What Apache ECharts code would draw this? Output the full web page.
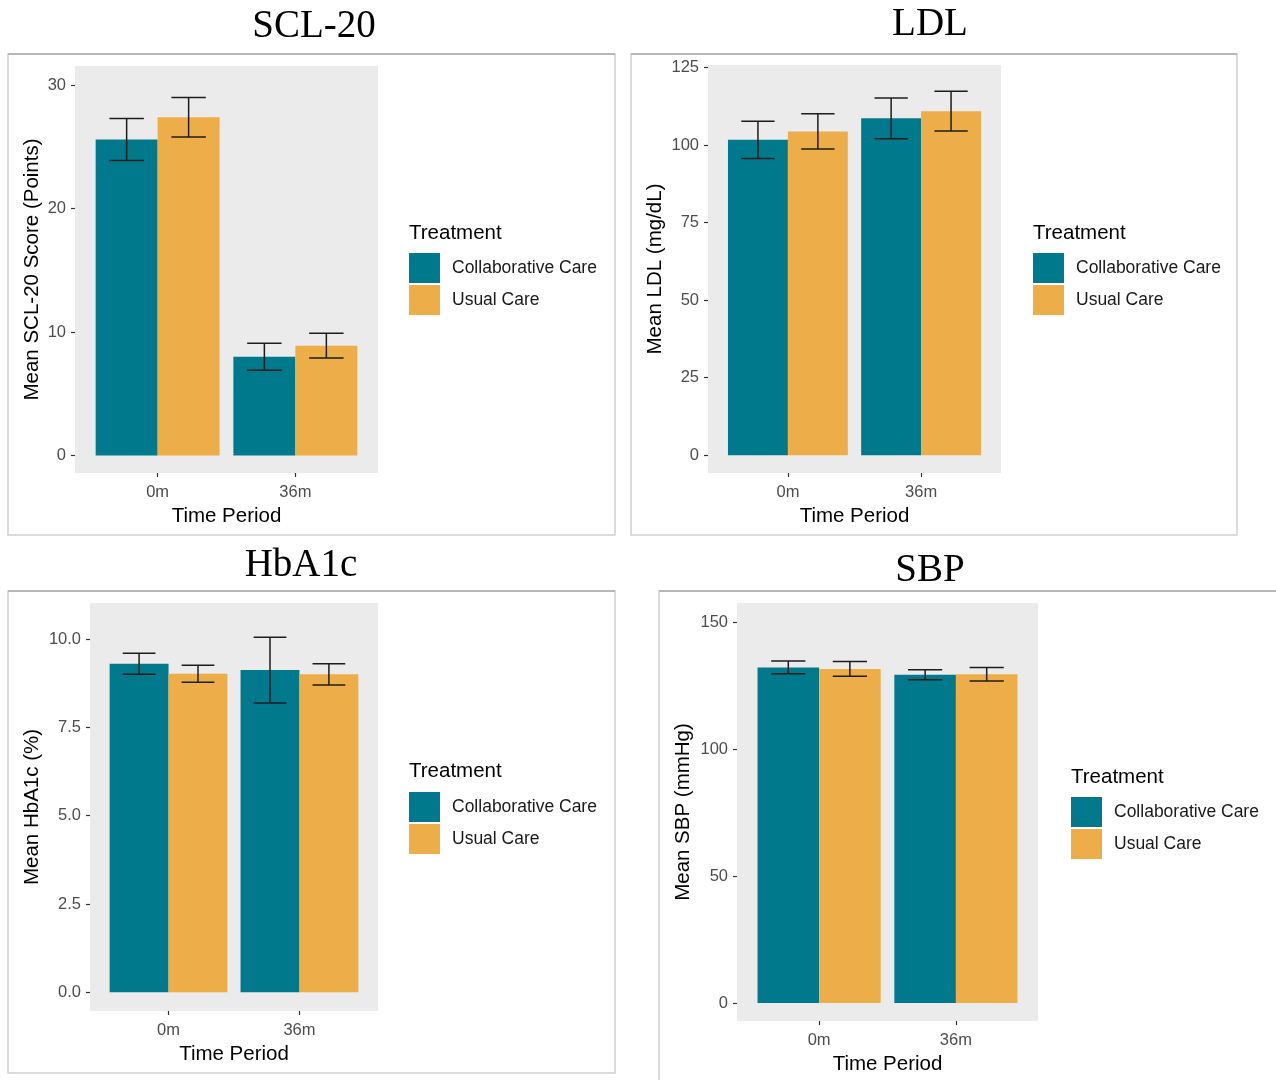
<!DOCTYPE html>
<html>
<head>
<meta charset="utf-8">
<script src="https://cdn.jsdelivr.net/npm/echarts@6/dist/echarts.min.js"></script>
<style>
  html, body { margin: 0; padding: 0; background: #ffffff; }
  #chart { width: 1276px; height: 1080px; }
</style>
</head>
<body>
<div id="chart"></div>
<script>
// Time points and treatment groups
const periods = ['0m', '36m'];
const groups = ['Collaborative Care', 'Usual Care'];

// SCL-20 depression score: means and error half-widths
const scl20CC = [25.6, 8.0];
const scl20CCErr = [1.7, 1.1];
const scl20UC = [27.4, 8.9];
const scl20UCErr = [1.6, 1.0];
const scl20Ticks = [0, 10, 20, 30];

// LDL cholesterol (mg/dL)
const ldlCC = [101.7, 108.6];
const ldlCCErr = [6.0, 6.6];
const ldlUC = [104.4, 110.9];
const ldlUCErr = [5.7, 6.4];
const ldlTicks = [0, 25, 50, 75, 100, 125];

// HbA1c (%)
const hba1cCC = [9.3, 9.12];
const hba1cCCErr = [0.3, 0.93];
const hba1cUC = [9.02, 9.0];
const hba1cUCErr = [0.24, 0.3];
const hba1cTicks = [0, 2.5, 5.0, 7.5, 10.0];

// Systolic blood pressure (mmHg)
const sbpCC = [132.3, 129.4];
const sbpCCErr = [2.5, 2.0];
const sbpUC = [131.7, 129.6];
const sbpUCErr = [2.9, 2.7];
const sbpTicks = [0, 50, 100, 150];

const COLORS = ['#00798C', '#EDAE49'];
const SANS = '"Liberation Sans", Arial, sans-serif';
const SERIF = '"Liberation Serif", "Times New Roman", serif';

// Layout of each panel
const panels = [
  { title: 'SCL-20', tx: 314, ty: 27, box: [8, 54, 607, 481],
    grid: { left: 75, top: 66, width: 303, height: 407 },
    yMin: -1.42, yMax: 31.56, ticks: scl20Ticks, dec: 0,
    yName: 'Mean SCL-20 Score (Points)', yGap: 32,
    legX: 409, legY: 253, legTitleY: 233,
    cc: scl20CC, ccErr: scl20CCErr, uc: scl20UC, ucErr: scl20UCErr },
  { title: 'LDL', tx: 930, ty: 25, box: [631, 54, 606, 481],
    grid: { left: 708, top: 65, width: 293, height: 408 },
    yMin: -5.7, yMax: 125.8, ticks: ldlTicks, dec: 0,
    yName: 'Mean LDL (mg/dL)', yGap: 42,
    legX: 1033, legY: 253, legTitleY: 233,
    cc: ldlCC, ccErr: ldlCCErr, uc: ldlUC, ucErr: ldlUCErr },
  { title: 'HbA1c', tx: 301, ty: 566, box: [8, 591, 607, 482],
    grid: { left: 90, top: 603, width: 288, height: 408 },
    yMin: -0.53, yMax: 11.02, ticks: hba1cTicks, dec: 1,
    yName: 'Mean HbA1c (%)', yGap: 47,
    legX: 409, legY: 792, legTitleY: 771,
    cc: hba1cCC, ccErr: hba1cCCErr, uc: hba1cUC, ucErr: hba1cUCErr },
  { title: 'SBP', tx: 930, ty: 571, box: [659, 591, 640, 520],
    grid: { left: 737, top: 603, width: 301, height: 418 },
    yMin: -7.1, yMax: 157.7, ticks: sbpTicks, dec: 0,
    yName: 'Mean SBP (mmHg)', yGap: 43,
    legX: 1071, legY: 797, legTitleY: 777,
    cc: sbpCC, ccErr: sbpCCErr, uc: sbpUC, ucErr: sbpUCErr }
];

const BAR_W = 0.45;   // dodge width per group, in category units
const CAP_W = 0.25;   // error bar cap width

function barRenderer(offset, color) {
  return function (params, api) {
    const x = api.value(0) + offset;
    const v = api.value(1);
    const p0 = api.coord([x - BAR_W / 2, v]);
    const p1 = api.coord([x + BAR_W / 2, 0]);
    return {
      type: 'rect',
      shape: { x: p0[0], y: p0[1], width: p1[0] - p0[0], height: p1[1] - p0[1] },
      style: { fill: color }
    };
  };
}

function errRenderer(offset) {
  return function (params, api) {
    const x = api.value(0) + offset;
    const lo = api.value(1);
    const hi = api.value(2);
    const top = api.coord([x, hi]);
    const bot = api.coord([x, lo]);
    const tl = api.coord([x - CAP_W / 2, hi]);
    const tr = api.coord([x + CAP_W / 2, hi]);
    const bl = api.coord([x - CAP_W / 2, lo]);
    const br = api.coord([x + CAP_W / 2, lo]);
    const st = { stroke: '#1c1c1c', lineWidth: 1.5 };
    return {
      type: 'group',
      children: [
        { type: 'line', shape: { x1: top[0], y1: top[1], x2: bot[0], y2: bot[1] }, style: st },
        { type: 'line', shape: { x1: tl[0], y1: tl[1], x2: tr[0], y2: tr[1] }, style: st },
        { type: 'line', shape: { x1: bl[0], y1: bl[1], x2: br[0], y2: br[1] }, style: st }
      ]
    };
  };
}

const option = {
  backgroundColor: '#ffffff',
  animation: false,
  grid: [], xAxis: [], yAxis: [], series: [], legend: [], graphic: []
};

panels.forEach(function (p, i) {
  option.grid.push({
    left: p.grid.left, top: p.grid.top, width: p.grid.width, height: p.grid.height,
    show: true, backgroundColor: '#EBEBEB', borderWidth: 0
  });
  option.xAxis.push({
    type: 'value', gridIndex: i, min: 0.4, max: 2.6, position: 'bottom',
    name: 'Time Period', nameLocation: 'middle', nameGap: 33,
    nameTextStyle: { fontFamily: SANS, fontSize: 20.5, color: '#000000' },
    axisLine: { show: false, onZero: false },
    axisTick: { show: true, customValues: [1, 2], length: 4, lineStyle: { color: '#333333', width: 1.2 } },
    axisLabel: {
      customValues: [1, 2], margin: 11, fontFamily: SANS, fontSize: 16.5, color: '#4D4D4D',
      formatter: function (v) { return periods[Math.round(v) - 1]; }
    },
    splitLine: { show: false }
  });
  option.yAxis.push({
    type: 'value', gridIndex: i, min: p.yMin, max: p.yMax, position: 'left',
    name: p.yName, nameLocation: 'middle', nameGap: p.yGap, nameRotate: 90,
    nameTextStyle: { fontFamily: SANS, fontSize: 20.5, color: '#000000' },
    axisLine: { show: false, onZero: false },
    axisTick: { show: true, customValues: p.ticks, length: 4, lineStyle: { color: '#333333', width: 1.2 } },
    axisLabel: {
      customValues: p.ticks, margin: 9, fontFamily: SANS, fontSize: 16.5, color: '#4D4D4D',
      formatter: function (v) { return v.toFixed(p.dec); }
    },
    splitLine: { show: false }
  });

  const ccData = p.cc.map(function (v, k) { return [k + 1, v]; });
  const ucData = p.uc.map(function (v, k) { return [k + 1, v]; });
  const ccErr = p.cc.map(function (v, k) { return [k + 1, v - p.ccErr[k], v + p.ccErr[k]]; });
  const ucErr = p.uc.map(function (v, k) { return [k + 1, v - p.ucErr[k], v + p.ucErr[k]]; });

  option.series.push(
    { type: 'custom', name: groups[0], xAxisIndex: i, yAxisIndex: i, data: ccData,
      itemStyle: { color: COLORS[0] }, renderItem: barRenderer(-BAR_W / 2, COLORS[0]),
      encode: { x: 0, y: 1 } },
    { type: 'custom', name: groups[1], xAxisIndex: i, yAxisIndex: i, data: ucData,
      itemStyle: { color: COLORS[1] }, renderItem: barRenderer(BAR_W / 2, COLORS[1]),
      encode: { x: 0, y: 1 } },
    { type: 'custom', name: 'err-cc-' + i, xAxisIndex: i, yAxisIndex: i, data: ccErr, z: 5,
      renderItem: errRenderer(-BAR_W / 2), encode: { x: 0, y: [1, 2] } },
    { type: 'custom', name: 'err-uc-' + i, xAxisIndex: i, yAxisIndex: i, data: ucErr, z: 5,
      renderItem: errRenderer(BAR_W / 2), encode: { x: 0, y: [1, 2] } }
  );

  option.legend.push({
    orient: 'vertical', left: p.legX, top: p.legY, padding: 0,
    itemWidth: 31, itemHeight: 30, itemGap: 2, icon: 'rect',
    selectedMode: false,
    data: [
      { name: groups[0], itemStyle: { color: COLORS[0] } },
      { name: groups[1], itemStyle: { color: COLORS[1] } }
    ],
    textStyle: { fontFamily: SANS, fontSize: 17.5, color: '#1a1a1a', padding: [0, 0, 0, 7] }
  });

  // panel frame, title and legend heading
  option.graphic.push(
    { type: 'rect', silent: true, z: -10,
      shape: { x: p.box[0], y: p.box[1], width: p.box[2], height: p.box[3] },
      style: { fill: 'none', stroke: '#D0D0D0', lineWidth: 1.5 } },
    { type: 'line', silent: true, z: -9,
      shape: { x1: p.box[0], y1: p.box[1], x2: p.box[0] + p.box[2], y2: p.box[1] },
      style: { stroke: '#B8B8B8', lineWidth: 2 } },
    { type: 'text', silent: true, x: p.tx, y: p.ty,
      style: { text: p.title, font: '39px ' + SERIF, fill: '#000000',
               textAlign: 'center', textVerticalAlign: 'middle' } },
    { type: 'text', silent: true, x: p.legX, y: p.legTitleY,
      style: { text: 'Treatment', font: '20.5px ' + SANS, fill: '#000000',
               textAlign: 'left', textVerticalAlign: 'middle' } }
  );
});

const chart = echarts.init(document.getElementById('chart'), null, { renderer: 'canvas' });
chart.setOption(option);
</script>
</body>
</html>
